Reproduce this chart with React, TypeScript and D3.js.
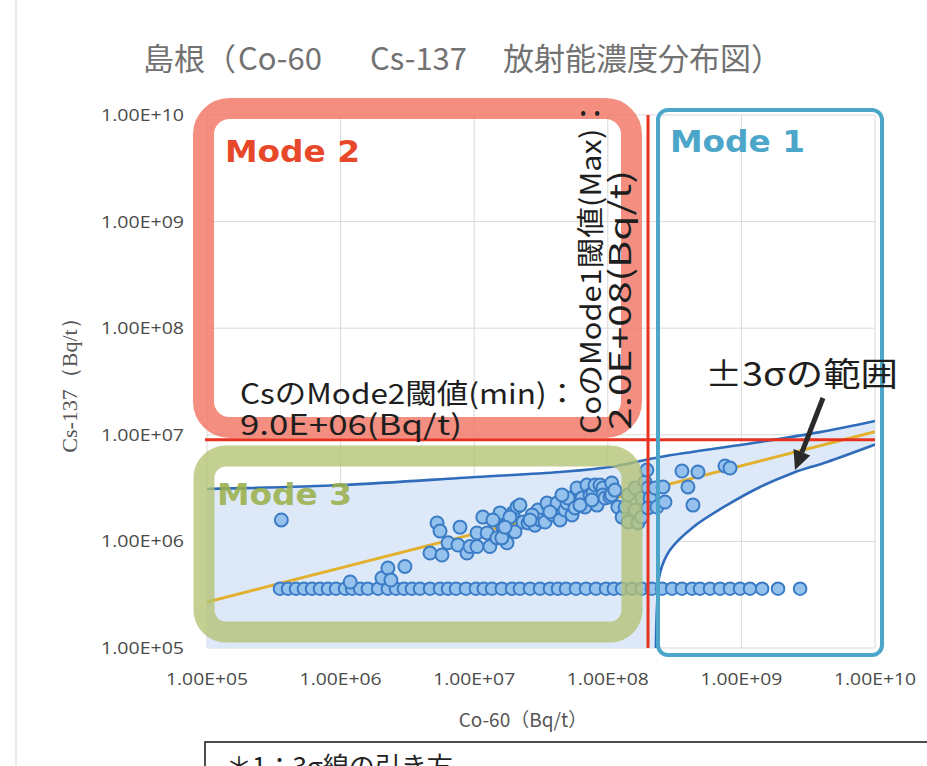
import React, { useRef, useEffect } from 'react'
import * as d3 from 'd3'

const W = 927
const H = 766

const decades = [1e5, 1e6, 1e7, 1e8, 1e9, 1e10]
const tickLabels = ['1.00E+05', '1.00E+06', '1.00E+07', '1.00E+08', '1.00E+09', '1.00E+10']

// thresholds (Bq/t)
const csMode2Min = 9.0e6
const coMode1Max = 2.0e8

// regression line, read at both ends of the axis
const fitLine: [number, number][] = [
  [1e5, 2.7e5],
  [1e10, 1.07e7],
]

// +3σ / -3σ curves
const upperBand: [number, number][] = [
  [1e5, 3.1e6], [1.04e6, 3.38e6], [1.03e7, 4.02e6], [4.39e7, 4.48e6],
  [1.04e8, 4.99e6], [2.46e8, 6.19e6], [1.38e9, 8.56e6], [3.87e9, 1.06e7],
  [1e10, 1.35e7],
]
const lowerBand: [number, number][] = [
  [2.28e8, 5e4], [2.33e8, 2.27e5], [2.46e8, 5.06e5], [2.92e8, 8.3e5],
  [4.35e8, 1.36e6], [7.8e8, 2.19e6], [1.38e9, 3.24e6], [2.43e9, 4.39e6],
  [4.38e9, 5.56e6], [1e10, 8.1e6],
]

// Cs-137 below detection, plotted at a fixed level
const ndCs = 3.6e5
const ndCo = [
  3.52e5, 4.04e5, 4.64e5, 5.32e5, 6.11e5, 7.01e5, 8.05e5, 9.24e5, 1.08e6, 1.22e6,
  1.4e6, 1.6e6, 1.91e6, 2.26e6, 2.6e6, 2.98e6, 3.42e6, 3.93e6, 4.67e6, 5.55e6,
  6.37e6, 7.31e6, 8.68e6, 1.03e7, 1.18e7, 1.36e7, 1.61e7, 1.92e7, 2.2e7, 2.62e7,
  3.11e7, 3.69e7, 4.24e7, 4.87e7, 5.78e7, 6.87e7, 8.16e7, 9.7e7, 1.11e8, 1.28e8,
  1.52e8, 1.8e8, 2.14e8, 2.55e8, 3.03e8, 3.59e8, 4.27e8, 4.9e8, 5.82e8, 6.92e8,
  8.22e8, 9.77e8, 1.16e9, 1.43e9, 1.88e9, 2.75e9,
]

// [Co-60, Cs-137]
const measured: [number, number][] = [
  [3.6e5, 1.59e6], [1.18e6, 4.16e5], [2.04e6, 4.54e5], [2.26e6, 5.62e5], [2.38e6, 4.34e5],
  [3.03e6, 5.82e5], [5.27e6, 1.49e6], [5.55e6, 1.25e6], [7.83e6, 1.36e6], [4.67e6, 7.78e5],
  [5.74e6, 7.45e5], [6.37e6, 9.7e5], [7.56e6, 9.25e5], [8.83e6, 7.78e5], [9.3e6, 8.95e5],
  [1.05e7, 1.2e6], [1.05e7, 8.95e5], [1.16e7, 1.69e6], [1.25e7, 1.2e6], [1.31e7, 8.95e5],
  [1.48e7, 1.08e6], [1.56e7, 1.85e6], [1.64e7, 1.36e6], [1.76e7, 9.7e5], [1.61e7, 1.08e6],
  [1.95e7, 1.85e6], [2.02e7, 1.23e6], [2.09e7, 2.1e6], [2.32e7, 1.52e6], [2.53e7, 1.49e6],
  [1.85e7, 1.69e6], [2.2e7, 2.19e6], [2.85e7, 1.42e6], [3.0e7, 1.97e6], [3.11e7, 1.59e6],
  [2.71e7, 1.77e6], [3.39e7, 1.52e6], [3.57e7, 2.19e6], [3.51e7, 2.29e6], [3.89e7, 1.77e6],
  [4.17e7, 2.29e6], [4.39e7, 1.59e6], [4.78e7, 1.97e6], [4.95e7, 2.29e6], [5.04e7, 2.55e6],
  [5.4e7, 1.77e6], [5.68e7, 2.06e6], [5.88e7, 3.17e6], [6.41e7, 2.55e6], [6.75e7, 2.1e6],
  [6.98e7, 3.38e6], [7.36e7, 2.73e6], [7.75e7, 2.85e6], [8.02e7, 3.38e6], [8.3e7, 2.19e6],
  [8.75e7, 3.38e6], [9.2e7, 3.17e6], [9.2e7, 2.73e6], [9.53e7, 2.55e6], [1.04e8, 2.61e6],
  [1.07e8, 3.53e6], [1.07e8, 2.73e6], [1.19e8, 2.1e6], [1.28e8, 1.69e6], [1.35e8, 2.1e6],
  [1.42e8, 2.73e6], [1.42e8, 1.52e6], [1.6e8, 3.17e6], [1.6e8, 1.97e6], [1.68e8, 1.49e6],
  [1.8e8, 2.55e6], [1.8e8, 1.69e6], [1.9e8, 3.61e6], [1.96e8, 4.67e6], [2.0e8, 3.17e6],
  [2.07e8, 2.55e6], [2.0e8, 2.06e6], [2.26e8, 3.17e6], [2.33e8, 2.1e6], [2.59e8, 3.24e6],
  [2.68e8, 2.34e6], [3.59e8, 4.57e6], [4.73e8, 4.48e6], [3.98e8, 3.24e6], [4.34e8, 2.19e6],
  [7.54e8, 5.1e6], [8.22e8, 4.88e6], [1.7e7, 1.36e6], [4.54e7, 2.73e6], [6.19e7, 2.19e6],
  [7.6e7, 2.45e6], [1.13e8, 3.03e6], [3.69e7, 1.89e6], [2.62e7, 1.59e6], [1.38e7, 1.59e6],
]

const JP = "'Noto Sans CJK JP', 'Noto Sans', sans-serif"
const LAT = "'Open Sans', 'Noto Sans', sans-serif"

const App: React.FC = () => {
  const svgRef = useRef<SVGSVGElement>(null)

  useEffect(() => {
    const svg = d3.select(svgRef.current!)
    svg.selectAll('*').remove()

    const x = d3.scaleLog().domain([1e5, 1e10]).range([207, 875])
    const y = d3.scaleLog().domain([1e5, 1e10]).range([648, 115])
    const [x0, x1] = x.range()
    const [y0, y1] = y.range()

    svg.append('rect').attr('width', W).attr('height', H).attr('fill', '#fff')
    svg.append('line')
      .attr('x1', 16).attr('x2', 16).attr('y1', 0).attr('y2', H)
      .attr('stroke', '#e2e2e2').attr('stroke-width', 1.5)

    svg.append('clipPath').attr('id', 'plot-clip')
      .append('rect')
      .attr('x', x0).attr('y', y1)
      .attr('width', x1 - x0).attr('height', y0 - y1)

    // grid
    const grid = svg.append('g').attr('stroke', '#d9d9d9').attr('stroke-width', 1)
    decades.forEach(d => {
      grid.append('line').attr('x1', x(d)).attr('x2', x(d)).attr('y1', y1).attr('y2', y0)
      grid.append('line').attr('y1', y(d)).attr('y2', y(d)).attr('x1', x0).attr('x2', x1)
    })

    const line = d3.line<[number, number]>()
      .x(d => x(d[0]))
      .y(d => y(d[1]))
      .curve(d3.curveCatmullRom.alpha(0.5))

    // ±3σ fill
    const upperPath = line(upperBand)!
    const lowerRev = line([...lowerBand].reverse())!.replace(/^M/, 'L')
    const back = `L${x(1e5)},${y(lowerBand[0][1])}Z`
    svg.append('path')
      .attr('clip-path', 'url(#plot-clip)')
      .attr('d', upperPath + lowerRev + back)
      .attr('fill', '#dde9f8')

    // Mode 2 box
    svg.append('rect')
      .attr('x', 203.5).attr('y', 108.5).attr('width', 428).attr('height', 319)
      .attr('rx', 26)
      .attr('fill', 'none')
      .attr('stroke', '#f07565').attr('stroke-opacity', 0.82).attr('stroke-width', 21)

    const curves = svg.append('g').attr('clip-path', 'url(#plot-clip)').attr('fill', 'none')
    curves.append('path')
      .attr('d', d3.line<[number, number]>().x(d => x(d[0])).y(d => y(d[1]))(fitLine)!)
      .attr('stroke', '#e2b02c').attr('stroke-width', 3)
    curves.append('path').attr('d', upperPath)
      .attr('stroke', '#2f6cbc').attr('stroke-width', 2.6)
    curves.append('path').attr('d', line(lowerBand)!)
      .attr('stroke', '#2f6cbc').attr('stroke-width', 2.6)

    // points
    const pts = svg.append('g')
      .attr('fill', '#95c2ec').attr('stroke', '#3b7cc6').attr('stroke-width', 2)
    ndCo.forEach(c => {
      pts.append('circle').attr('cx', x(c)).attr('cy', y(ndCs)).attr('r', 6.3)
    })
    measured.forEach(([c, s]) => {
      pts.append('circle').attr('cx', x(c)).attr('cy', y(s)).attr('r', 6.5)
    })

    // Mode 3 box
    svg.append('rect')
      .attr('x', 204).attr('y', 456).attr('width', 428).attr('height', 176)
      .attr('rx', 22)
      .attr('fill', 'none')
      .attr('stroke', '#b3c173').attr('stroke-opacity', 0.78).attr('stroke-width', 21)

    // thresholds
    svg.append('line')
      .attr('x1', x0 - 2).attr('x2', x1).attr('y1', y(csMode2Min)).attr('y2', y(csMode2Min))
      .attr('stroke', '#e8321f').attr('stroke-width', 3)
    svg.append('line')
      .attr('x1', x(coMode1Max)).attr('x2', x(coMode1Max)).attr('y1', y1).attr('y2', y0)
      .attr('stroke', '#e8321f').attr('stroke-width', 3)

    // Mode 1 box
    svg.append('rect')
      .attr('x', 658).attr('y', 110).attr('width', 224).attr('height', 545)
      .attr('rx', 10)
      .attr('fill', 'none')
      .attr('stroke', '#4ba6c9').attr('stroke-width', 4)

    const modeLabel = (tx: number, ty: number, text: string, color: string, op = 1) =>
      svg.append('text')
        .attr('x', tx).attr('y', ty)
        .attr('font-family', "'DejaVu Sans', sans-serif")
        .attr('font-weight', 'bold').attr('font-size', 31)
        .attr('fill', color).attr('fill-opacity', op)
        .attr('textLength', 135).attr('lengthAdjust', 'spacingAndGlyphs')
        .text(text)
    modeLabel(225, 162, 'Mode 2', '#e8482a')
    modeLabel(670, 152, 'Mode 1', '#4ba6c9')
    modeLabel(217, 505, 'Mode 3', '#9ab04a', 0.9)

    // threshold notes
    const note = (tx: number, ty: number, text: string, len: number, rot = 0) =>
      svg.append('text')
        .attr('transform', `translate(${tx},${ty}) rotate(${rot})`)
        .attr('font-family', JP).attr('font-size', 28).attr('fill', '#1e1e1e')
        .attr('textLength', len).attr('lengthAdjust', 'spacingAndGlyphs')
        .text(text)
    note(240, 404, 'CsのMode2閾値(min)：', 338)
    note(240, 435, '9.0E+06(Bq/t)', 222)
    note(601, 434, 'CoのMode1閾値(Max)：', 336, -90)
    note(631, 430, '2.0E+08(Bq/t)', 260, -90).attr('font-size', 30)
    note(705, 386, '±3σの範囲', 193).attr('font-size', 33)

    // arrow
    const S = [823, 398], T = [795, 470]
    const dx = T[0] - S[0], dy = T[1] - S[1]
    const len = Math.hypot(dx, dy)
    const u = [dx / len, dy / len], n = [-u[1], u[0]]
    const B = [T[0] - 19 * u[0], T[1] - 19 * u[1]]
    svg.append('line')
      .attr('x1', S[0]).attr('y1', S[1]).attr('x2', B[0]).attr('y2', B[1])
      .attr('stroke', '#2a2a2a').attr('stroke-width', 5)
    svg.append('polygon')
      .attr('points', [T, [B[0] + 9 * n[0], B[1] + 9 * n[1]], [B[0] - 9 * n[0], B[1] - 9 * n[1]]]
        .map(p => p.join(',')).join(' '))
      .attr('fill', '#2a2a2a')

    // tick labels
    decades.forEach((d, i) => {
      svg.append('text')
        .attr('x', x(d)).attr('y', 685)
        .attr('text-anchor', 'middle')
        .attr('font-family', LAT).attr('font-size', 17).attr('fill', '#4a4a4a')
        .attr('textLength', 82).attr('lengthAdjust', 'spacingAndGlyphs')
        .text(tickLabels[i])
      svg.append('text')
        .attr('x', 184).attr('y', y(d) + 6)
        .attr('text-anchor', 'end')
        .attr('font-family', LAT).attr('font-size', 17).attr('fill', '#4a4a4a')
        .attr('textLength', 83).attr('lengthAdjust', 'spacingAndGlyphs')
        .text(tickLabels[i])
    })

    // axis titles
    svg.append('text')
      .attr('x', 523).attr('y', 727)
      .attr('text-anchor', 'middle')
      .attr('font-family', JP).attr('font-size', 19).attr('fill', '#555')
      .text('Co-60（Bq/t）')
    svg.append('text')
      .attr('transform', 'translate(77,380) rotate(-90)')
      .attr('text-anchor', 'middle')
      .attr('font-family', "'Liberation Serif', serif").attr('font-size', 22).attr('fill', '#555')
      .text('Cs-137（Bq/t）')

    // title
    const title = svg.append('text')
      .attr('y', 70)
      .attr('font-family', JP).attr('font-size', 31).attr('fill', '#727272')
    title.append('tspan').attr('x', 143).text('島根（')
    title.append('tspan').attr('x', 238).text('Co-60')
    title.append('tspan').attr('x', 370).text('Cs-137')
    title.append('tspan').attr('x', 503).text('放射能濃度分布図）')

    // footnote box, cut by the page edge as in the source
    svg.append('rect')
      .attr('x', 205).attr('y', 742).attr('width', 760).attr('height', 60)
      .attr('fill', '#fff').attr('stroke', '#222').attr('stroke-width', 1.6)
    svg.append('text')
      .attr('x', 226).attr('y', 776)
      .attr('font-family', JP).attr('font-size', 26).attr('fill', '#222')
      .text('＊1：3σ線の引き方')
  }, [])

  return (
    <svg
      ref={svgRef}
      width={W}
      height={H}
      style={{ position: 'absolute', left: 0, top: 0, display: 'block' }}
    />
  )
}

export default App
